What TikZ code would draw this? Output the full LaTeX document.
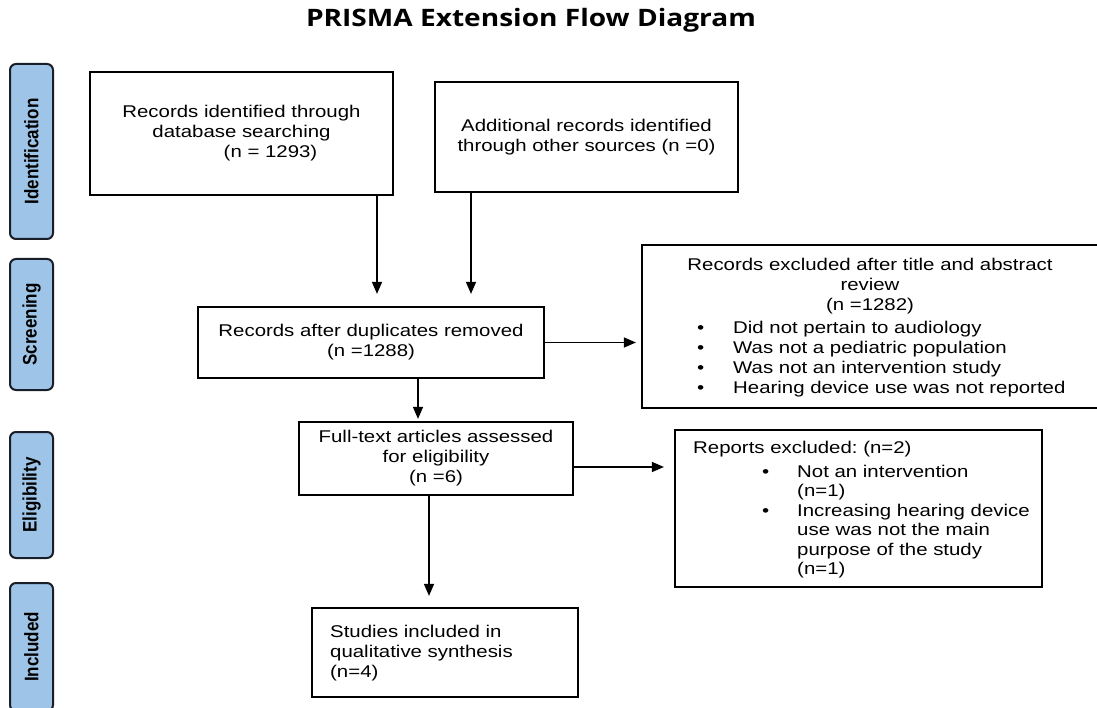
\documentclass[tikz,border=0pt]{standalone}
\usepackage{fontspec}
\usepackage{graphicx}
\setmainfont{Liberation Sans}
\newfontfamily\boxfont{Liberation Sans}[FakeStretch=1.2]
\newfontfamily\titlefont{Open Sans}[FakeStretch=1.17]
\usetikzlibrary{arrows.meta}
\definecolor{lblfill}{RGB}{158,196,231}
\definecolor{lbldraw}{RGB}{25,30,40}
\frenchspacing
\begin{document}
\begin{tikzpicture}[x=1pt,y=-1pt,
  box/.style={draw=black,line width=2.2pt,inner sep=0pt,align=center,
    font=\boxfont\fontsize{17pt}{20pt}\selectfont},
  lbl/.style={draw=lbldraw,fill=lblfill,line width=2pt,rounded corners=6pt,
    rotate=90,inner sep=0pt,font=\fontsize{17pt}{20pt}\selectfont\bfseries},
  txt/.style={inner sep=0pt,font=\boxfont\fontsize{17pt}{20pt}\selectfont},
  arr/.style={line width=1.4pt,-{Triangle[width=10pt,length=12pt]}}
]
\useasboundingbox (0,0) rectangle (1097,708);
\node[font=\titlefont\bfseries\fontsize{24pt}{28pt}\selectfont,anchor=base,inner sep=0pt] (title) at (531,27) {PRISMA Extension Flow Diagram};
% phase labels
\node[lbl,minimum width=175pt,minimum height=43pt] (lid) at (31.5,151.5) {\scalebox{1}[1.15]{Identification}};
\node[lbl,minimum width=131pt,minimum height=43pt] (lsc) at (31.5,324.5) {\scalebox{1}[1.15]{Screening}};
\node[lbl,minimum width=126pt,minimum height=43pt] (lel) at (31.5,495) {\scalebox{1}[1.15]{Eligibility}};
\node[lbl,minimum width=128pt,minimum height=43pt] (lin) at (31.5,647) {\scalebox{1}[1.15]{Included}};
% boxes
\node[box,minimum width=303pt,minimum height=123pt] (b1) at (241.5,133.5)
  {Records identified through\\database searching\\\hspace*{58pt}(n = 1293)};
\node[box,minimum width=303pt,minimum height=110pt] (b2) at (586.5,137)
  {Additional records identified\\through other sources (n =0)};
\node[box,minimum width=346pt,minimum height=71pt] (b3) at (371,342.5)
  {Records after duplicates removed\\(n =1288)};
\node[box,minimum width=457pt,minimum height=163pt] (b4) at (870.5,326.5) {};
\node[txt,align=center] (b4h) at (870,286) {Records excluded after title and abstract\\review\\(n =1282)};
\node[txt,align=left,anchor=north west] (b4l) at (697,320.7)
  {\makebox[36pt][l]{•}Did not pertain to audiology\\
   \makebox[36pt][l]{•}Was not a pediatric population\\
   \makebox[36pt][l]{•}Was not an intervention study\\
   \makebox[36pt][l]{•}Hearing device use was not reported};
\node[box,minimum width=274pt,minimum height=73pt] (ft) at (436,458.5)
  {Full-text articles assessed\\for eligibility\\(n =6)};
\node[box,minimum width=367pt,minimum height=157pt] (b5) at (858.5,508.5) {};
\node[txt,align=left,anchor=north west,font=\boxfont\fontsize{17pt}{19.5pt}\selectfont] (b5t) at (693,440.7)
  {Reports excluded: (n=2)\\[4.5pt]
   \hspace*{69pt}\makebox[35pt][l]{•}Not an intervention\\
   \hspace*{104pt}(n=1)\\
   \hspace*{69pt}\makebox[35pt][l]{•}Increasing hearing device\\
   \hspace*{104pt}use was not the main\\
   \hspace*{104pt}purpose of the study\\
   \hspace*{104pt}(n=1)};
\node[box,minimum width=266pt,minimum height=89pt] (st) at (445,652.5) {};
\node[txt,align=left,anchor=west] (stt) at (330,653)
  {Studies included in\\qualitative synthesis\\(n=4)};
% connectors
\coordinate (x1) at (377,0);
\coordinate (x2) at (471,0);
\coordinate (x3) at (418,0);
\coordinate (x4) at (429,0);
\coordinate (y5) at (0,467);
\draw[arr,shorten >=12pt] (b1.south -| x1) -- (b3.north -| x1);
\draw[arr,shorten >=12pt] (b2.south -| x2) -- (b3.north -| x2);
\draw[arr,shorten >=5pt] (b3.east) -- (b3.east -| b4.west);
\draw[arr,shorten >=2pt] (b3.south -| x3) -- (ft.north -| x3);
\draw[arr,shorten >=10pt] (ft.east |- y5) -- (b5.west |- y5);
\draw[arr,shorten >=11pt] (ft.south -| x4) -- (st.north -| x4);
\end{tikzpicture}
\end{document}
